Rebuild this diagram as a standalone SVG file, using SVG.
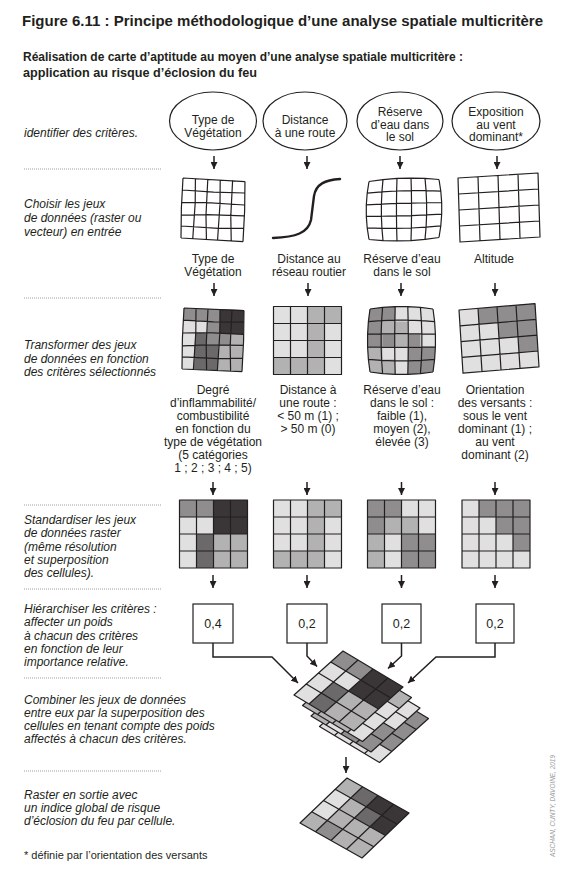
<svg xmlns="http://www.w3.org/2000/svg" width="564" height="876" viewBox="0 0 564 876">
<style>
text{font-family:"Liberation Sans",Arial,sans-serif;fill:#231f20}
.title{font-size:14.5px;font-weight:bold}
.sub{font-size:12px;font-weight:bold}
.step{font-size:12px;font-style:italic}
.lab{font-size:12px;text-anchor:middle}
.box{font-size:12.5px;text-anchor:middle}
.note{font-size:11px}
.credit{font-size:6.5px;font-style:italic;fill:#9a9a9a}
.dot{stroke:#555;stroke-width:0.7;stroke-dasharray:0.8 1.2;fill:none}
.gl{fill:none;stroke:#231f20;stroke-width:1.2;stroke-linejoin:round}
.c0{fill:#e0e0e0}.c1{fill:#b3b2b2}.c2{fill:#8f8d8e}.c3{fill:#6b696a}.c4{fill:#3a3536}
.ell{fill:#fff;stroke:#231f20;stroke-width:1.2}
.wbox{fill:#fff;stroke:#231f20;stroke-width:1.2}
.conn{fill:none;stroke:#231f20;stroke-width:1.5;marker-end:url(#ah)}
</style>
<defs>
<marker id="ah" viewBox="0 0 10 10" refX="10" refY="5" markerWidth="7" markerHeight="7" markerUnits="userSpaceOnUse" orient="auto"><path d="M0,0 L10,5 L0,10 Z" fill="#231f20"/></marker>
<path id="g4" class="gl" vector-effect="non-scaling-stroke" d="M0,0H4V4H0Z M1,0V4 M2,0V4 M3,0V4 M0,1H4 M0,2H4 M0,3H4"/>
<path id="g5w" class="gl" vector-effect="non-scaling-stroke" d="M0,0 L5,0.05 M0,1 L2.5,1.05 L5,1 M0,2.05 L2,1.95 L5,2 M0,3.1 L2,2.95 L5,2.9 M0,4 L3,4.05 L5,3.95 M0,5 L5,5.05 M0,0 L-0.05,2.5 L0,5 M1,0 L1.05,2 L0.95,5 M2,0 L1.95,3 L2.05,5 M3,0 L3.05,2 L2.95,5 M4,0 L3.95,3 L4.05,5 M5,0.05 L5.05,2.5 L5,5.05"/>
<path id="g5b" class="gl" vector-effect="non-scaling-stroke" d="M0,0 L1,-0.128 L2,-0.192 L3,-0.192 L4,-0.128 L5,0 M-0.128,1 L0.923,0.923 L1.974,0.885 L3.026,0.885 L4.077,0.923 L5.128,1 M-0.192,2 L0.885,1.974 L1.962,1.962 L3.038,1.962 L4.115,1.974 L5.192,2 M-0.192,3 L0.885,3.026 L1.962,3.038 L3.038,3.038 L4.115,3.026 L5.192,3 M-0.128,4 L0.923,4.077 L1.974,4.115 L3.026,4.115 L4.077,4.077 L5.128,4 M0,5 L1,5.128 L2,5.192 L3,5.192 L4,5.128 L5,5 M0,0 L-0.128,1 L-0.192,2 L-0.192,3 L-0.128,4 L0,5 M1,-0.128 L0.923,0.923 L0.885,1.974 L0.885,3.026 L0.923,4.077 L1,5.128 M2,-0.192 L1.974,0.885 L1.962,1.962 L1.962,3.038 L1.974,4.115 L2,5.192 M3,-0.192 L3.026,0.885 L3.038,1.962 L3.038,3.038 L3.026,4.115 L3,5.192 M4,-0.128 L4.077,0.923 L4.115,1.974 L4.115,3.026 L4.077,4.077 L4,5.128 M5,0 L5.128,1 L5.192,2 L5.192,3 L5.128,4 L5,5"/>
<clipPath id="barrel" clipPathUnits="userSpaceOnUse"><path d="M0,0 L1,-0.128 L2,-0.192 L3,-0.192 L4,-0.128 L5,0 L5.128,1 L5.192,2 L5.192,3 L5.128,4 L5,5 L4,5.128 L3,5.192 L2,5.192 L1,5.128 L0,5 L-0.128,4 L-0.192,3 L-0.192,2 L-0.128,1 Z"/></clipPath>
<g id="f1"><rect class="c0" width="4" height="4"/><rect class="c2" width="2" height="1"/><rect class="c4" x="2" width="2" height="2"/><rect class="c3" x="1" y="2" width="1" height="2"/><rect class="c1" x="2" y="2" width="2" height="2"/></g>
<g id="f2"><rect class="c0" width="4" height="4"/><rect class="c1" x="2" width="2" height="1"/><rect class="c1" x="2" y="1" width="1" height="2"/><rect class="c1" y="3" width="3" height="1"/></g>
<g id="f3"><rect class="c0" width="4" height="4"/><rect class="c2" width="2" height="1"/><rect class="c2" y="1" width="1" height="1"/><rect class="c2" x="2" y="2" width="2" height="2"/><rect class="c1" x="1" y="1" width="2" height="1"/><rect class="c1" y="2" width="1" height="2"/></g>
<g id="f4"><rect class="c0" width="4" height="4"/><rect class="c2" x="1" width="3" height="1"/><rect class="c2" x="2" y="1" width="2" height="1"/><rect class="c2" x="3" y="2" width="1" height="1"/></g>
</defs>
<rect width="564" height="876" fill="#fff"/>

<g id="header">
<text class="title" x="22" y="26" textLength="521" lengthAdjust="spacingAndGlyphs">Figure 6.11 : Principe méthodologique d’une analyse spatiale multicritère</text>
<text class="sub" x="23" y="61" textLength="440" lengthAdjust="spacingAndGlyphs">Réalisation de carte d’aptitude au moyen d’une analyse spatiale multicritère :</text>
<text class="sub" x="23" y="77" textLength="234" lengthAdjust="spacingAndGlyphs">application au risque d’éclosion du feu</text>
</g>

<g id="separators">
<path class="dot" d="M24,169H162 M24,298H162 M24,505H162 M24,589H162 M24,678H162 M24,771H162"/>
</g>

<g id="steps">
<g id="step1"><text class="step" x="24" y="137">identifier des critères.</text></g>
<g id="step2"><text class="step" x="24" y="208">Choisir les jeux</text><text class="step" x="24" y="222">de données (raster ou</text><text class="step" x="24" y="236">vecteur) en entrée</text></g>
<g id="step3"><text class="step" x="24" y="349">Transformer des jeux</text><text class="step" x="24" y="362.5">de données en fonction</text><text class="step" x="24" y="376">des critères sélectionnés</text></g>
<g id="step4"><text class="step" x="24" y="524">Standardiser les jeux</text><text class="step" x="24" y="537.3">de données raster</text><text class="step" x="24" y="550.6">(même résolution</text><text class="step" x="24" y="563.9">et superposition</text><text class="step" x="24" y="577.2">des cellules).</text></g>
<g id="step5"><text class="step" x="24" y="613">Hiérarchiser les critères :</text><text class="step" x="24" y="626.3">affecter un poids</text><text class="step" x="24" y="639.6">à chacun des critères</text><text class="step" x="24" y="652.9">en fonction de leur</text><text class="step" x="24" y="666.2">importance relative.</text></g>
<g id="step6"><text class="step" x="24" y="704">Combiner les jeux de données</text><text class="step" x="24" y="717">entre eux par la superposition des</text><text class="step" x="24" y="730">cellules en tenant compte des poids</text><text class="step" x="24" y="743">affectés à chacun des critères.</text></g>
<g id="step7"><text class="step" x="24" y="799">Raster en sortie avec</text><text class="step" x="24" y="812">un indice global de risque</text><text class="step" x="24" y="825">d’éclosion du feu par cellule.</text></g>
</g>

<g id="crit-veg"><ellipse class="ell" cx="213" cy="121" rx="43.5" ry="29"/><text class="lab" x="213" y="124">Type de</text><text class="lab" x="213" y="137">Végétation</text></g>
<g id="crit-route"><ellipse class="ell" cx="305" cy="121" rx="42" ry="29"/><text class="lab" x="305" y="124">Distance</text><text class="lab" x="305" y="137">à une route</text></g>
<g id="crit-eau"><ellipse class="ell" cx="400" cy="121" rx="43" ry="29"/><text class="lab" x="400" y="116">Réserve</text><text class="lab" x="400" y="128.5">d’eau dans</text><text class="lab" x="400" y="141">le sol</text></g>
<g id="crit-vent"><ellipse class="ell" cx="496" cy="121" rx="44" ry="29"/><text class="lab" x="496" y="116">Exposition</text><text class="lab" x="496" y="128.5">au vent</text><text class="lab" x="496" y="141">dominant*</text></g>

<g id="in-veg"><g transform="matrix(12.4 0.6 -0.4 12 183 178)"><use href="#g5w"/></g></g>
<g id="in-route"><path d="M273,238 C296,237 308,233 311,220 L314,196 C316,184 325,180 340,179" fill="none" stroke="#231f20" stroke-width="2.4" stroke-linecap="round"/></g>
<g id="in-eau"><g transform="matrix(14 -0.4 0 11.6 369 181.5)"><use href="#g5b"/></g></g>
<g id="in-alt"><g transform="matrix(20 -1.25 0.5 16 458 178)"><use href="#g4"/></g></g>

<g id="lab-veg"><text class="lab" x="213" y="262.5">Type de</text><text class="lab" x="213" y="276">Végétation</text></g>
<g id="lab-route"><text class="lab" x="309" y="262.5">Distance au</text><text class="lab" x="309" y="276">réseau routier</text></g>
<g id="lab-eau"><text class="lab" x="402" y="262.5">Réserve d’eau</text><text class="lab" x="402" y="276">dans le sol</text></g>
<g id="lab-alt"><text class="lab" x="494" y="262.5">Altitude</text></g>

<g id="tr-veg"><g transform="matrix(12 0.4 -0.4 12.2 184 308)">
<rect class="c0" width="5" height="5"/><rect class="c2" width="3" height="1"/><rect class="c2" x="2" y="1" width="1" height="1"/><rect class="c2" x="2" y="2" width="2" height="1"/><rect class="c4" x="3" width="2" height="2"/><rect class="c3" x="1" y="2" width="1" height="1"/><rect class="c3" x="1" y="3" width="2" height="2"/><rect class="c1" x="4" y="2" width="1" height="1"/><rect class="c1" x="3" y="3" width="2" height="2"/>
<use href="#g5w"/></g></g>
<g id="tr-route"><g transform="matrix(17 0 0 17 273.5 306.5)"><use href="#f2"/><use href="#g4"/></g></g>
<g id="tr-eau"><g transform="matrix(12.6 0 0 12.6 370 309)"><g clip-path="url(#barrel)">
<rect class="c0" x="-0.2" y="-0.2" width="5.4" height="5.4"/><rect class="c2" x="-0.2" y="-0.2" width="2.2" height="1.2"/><rect class="c2" x="-0.2" y="1" width="1.2" height="2"/><rect class="c2" x="1" y="2" width="1" height="1"/><rect class="c2" x="3" y="2" width="1" height="1"/><rect class="c2" x="3" y="3" width="2.2" height="2.2"/><rect class="c1" x="1" y="1" width="2" height="1"/><rect class="c1" x="2" y="2" width="1" height="1"/><rect class="c1" x="-0.2" y="3" width="1.2" height="2.2"/><rect class="c1" x="1" y="4" width="1" height="1.2"/>
</g><use href="#g5b"/></g></g>
<g id="tr-alt"><g transform="matrix(19 -1.6 1 15.8 459 310)"><use href="#f4"/><use href="#g4"/></g></g>

<g id="desc-veg"><text class="lab" x="213" y="394">Degré</text><text class="lab" x="213" y="407">d’inflammabilité/</text><text class="lab" x="213" y="420">combustibilité</text><text class="lab" x="213" y="433">en fonction du</text><text class="lab" x="213" y="446">type de végétation</text><text class="lab" x="213" y="459">(5 catégories</text><text class="lab" x="213" y="472">1 ; 2 ; 3 ; 4 ; 5)</text></g>
<g id="desc-route"><text class="lab" x="308" y="394">Distance à</text><text class="lab" x="308" y="407">une route :</text><text class="lab" x="308" y="420">&lt; 50 m (1) ;</text><text class="lab" x="308" y="433">&gt; 50 m (0)</text></g>
<g id="desc-eau"><text class="lab" x="402" y="394">Réserve d’eau</text><text class="lab" x="402" y="407">dans le sol :</text><text class="lab" x="402" y="420">faible (1),</text><text class="lab" x="402" y="433">moyen (2),</text><text class="lab" x="402" y="446">élevée (3)</text></g>
<g id="desc-alt"><text class="lab" x="495" y="394">Orientation</text><text class="lab" x="495" y="407">des versants :</text><text class="lab" x="495" y="420">sous le vent</text><text class="lab" x="495" y="433">dominant (1) ;</text><text class="lab" x="495" y="446">au vent</text><text class="lab" x="495" y="459">dominant (2)</text></g>

<g id="std-veg"><g transform="matrix(17 0 0 17 179.5 500)"><use href="#f1"/><use href="#g4"/></g></g>
<g id="std-route"><g transform="matrix(17 0 0 17 273.5 500)"><use href="#f2"/><use href="#g4"/></g></g>
<g id="std-eau"><g transform="matrix(17 0 0 17 367.5 500)"><use href="#f3"/><use href="#g4"/></g></g>
<g id="std-alt"><g transform="matrix(17 0 0 17 462 500)"><use href="#f4"/><use href="#g4"/></g></g>

<g id="w-veg"><rect class="wbox" x="193" y="604" width="40" height="39"/><text class="box" x="213" y="628">0,4</text></g>
<g id="w-route"><rect class="wbox" x="287" y="604" width="40" height="39"/><text class="box" x="307" y="628">0,2</text></g>
<g id="w-eau"><rect class="wbox" x="382" y="604" width="39" height="39"/><text class="box" x="401.5" y="628">0,2</text></g>
<g id="w-alt"><rect class="wbox" x="476" y="604" width="38" height="39"/><text class="box" x="495" y="628">0,2</text></g>

<g id="stack">
<g transform="matrix(15 9 -12.25 11 368.5 682.5)"><use href="#f4"/><use href="#g4"/></g>
<g transform="matrix(15 9 -12.25 11 360 672)"><use href="#f3"/><use href="#g4"/></g>
<g transform="matrix(15 9 -12.25 11 351.5 661.5)"><use href="#f2"/><use href="#g4"/></g>
<g transform="matrix(15 9 -12.25 11 343 651)"><use href="#f1"/><use href="#g4"/></g>
</g>

<g id="output"><g transform="matrix(15.5 8.75 -11.75 11.25 347 778)">
<rect class="c1" width="4" height="4"/><rect class="c3" x="1" width="1" height="1"/><rect class="c3" x="2" y="1" width="1" height="1"/><rect class="c4" x="2" width="2" height="1"/><rect class="c4" x="3" y="1" width="1" height="1"/><rect class="c0" y="1" width="1" height="2"/><rect class="c2" x="1" y="3" width="1" height="1"/>
<use href="#g4"/></g></g>

<g id="connectors">
<path class="conn" d="M214,156V169"/><path class="conn" d="M307,156V169"/><path class="conn" d="M400,156V169"/><path class="conn" d="M497,156V169"/>
<path class="conn" d="M214,283V296"/><path class="conn" d="M308,283V296"/><path class="conn" d="M401,283V296"/><path class="conn" d="M495,283V296"/>
<path class="conn" d="M213,482V495"/><path class="conn" d="M307,482V495"/><path class="conn" d="M401.5,482V495"/><path class="conn" d="M495,482V495"/>
<path class="conn" d="M213,575V588"/><path class="conn" d="M307,575V588"/><path class="conn" d="M401.5,575V588"/><path class="conn" d="M495,575V588"/>
<path class="conn" d="M213,643V657H272L298,683"/>
<path class="conn" d="M307,643V656L317,666.5"/>
<path class="conn" d="M401.5,643V656L388,668.5"/>
<path class="conn" d="M495,643V657H436L408,683"/>
<path class="conn" d="M346,757V773"/>
</g>

<g id="footer">
<text class="note" x="24" y="859">* définie par l’orientation des versants</text>
<text class="credit" transform="translate(554.5,857) rotate(-90)" textLength="102" lengthAdjust="spacingAndGlyphs">ASCHAN, CUNTY, DAVOINE, 2019</text>
</g>
</svg>
